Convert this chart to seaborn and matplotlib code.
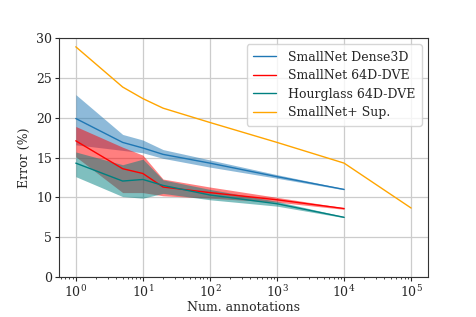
import numpy as np
import pandas as pd
import matplotlib
matplotlib.use("Agg")
import matplotlib.pyplot as plt
import seaborn as sns

# values
annotations = [1, 5, 10, 20, 100, 1000, 10000]

dense3d_mean = [19.9, 16.9, 16.2, 15.4, 14.3, 12.6, 11.0]
dense3d_low = [16.6, 15.9, 15.6, 14.9, 13.8, 12.4, 10.95]
dense3d_high = [22.9, 17.9, 17.2, 16.0, 14.7, 12.85, 11.1]

dve_mean = [17.1, 13.6, 13.0, 11.3, 10.6, 9.7, 8.6]
dve_low = [15.1, 10.6, 10.6, 10.2, 9.9, 9.4, 8.5]
dve_high = [18.9, 16.3, 15.3, 12.3, 11.3, 10.0, 8.7]

hg_mean = [14.3, 12.05, 12.25, 11.5, 10.3, 9.2, 7.5]
hg_low = [12.6, 10.1, 9.9, 10.5, 9.7, 8.9, 7.45]
hg_high = [15.7, 14.1, 14.8, 12.2, 11.0, 9.5, 7.6]

sup_annotations = [1, 5, 10, 20, 100, 1000, 10000, 100000]
sup_error = [28.9, 23.85, 22.4, 21.2, 19.4, 16.9, 14.3, 8.66]

series = [
    ("SmallNet Dense3D", dense3d_mean, dense3d_low, dense3d_high, "#1f77b4"),
    ("SmallNet 64D-DVE", dve_mean, dve_low, dve_high, "red"),
    ("Hourglass 64D-DVE", hg_mean, hg_low, hg_high, "teal"),
]

sns.set_style("ticks")
plt.rcParams["font.family"] = ["DejaVu Serif"]

fig = plt.figure(figsize=(4.76, 3.17), dpi=100)
ax = fig.add_axes([0.124, 0.126, 0.775, 0.754])

for name, mean, low, high, color in series:
    df = pd.DataFrame({"x": annotations, "y": mean})
    sns.lineplot(data=df, x="x", y="y", color=color, lw=1, ax=ax, label=name)
    ax.fill_between(annotations, low, high, color=color, alpha=0.5, lw=0)

sup_df = pd.DataFrame({"x": sup_annotations, "y": sup_error})
sns.lineplot(data=sup_df, x="x", y="y", color="orange", lw=1, ax=ax, label="SmallNet+ Sup.")

ax.set_xscale("log")
ax.set_ylim(0, 30)
ax.set_xlabel("Num. annotations", fontsize=9, labelpad=1)
ax.set_ylabel("Error (%)", fontsize=9, labelpad=4)
ax.tick_params(labelsize=9, length=3, pad=2)
ax.tick_params(which="minor", length=1.5)
ax.grid(True, color="#cccccc", lw=0.9)
for sp in ax.spines.values():
    sp.set_color("#333333")
    sp.set_linewidth(0.8)

ax.legend(loc="upper right", fontsize=9, frameon=True, handlelength=1.8,
          borderpad=0.5, labelspacing=0.45, handletextpad=1.0)

fig.savefig("out.png", dpi=100)
